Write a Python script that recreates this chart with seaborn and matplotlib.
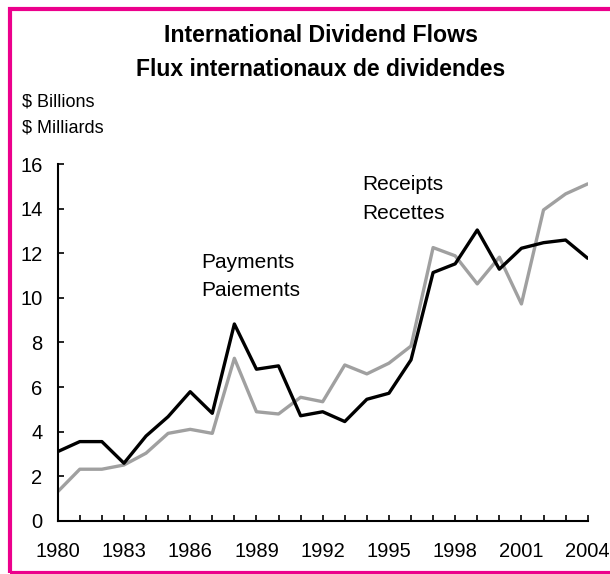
import pandas as pd
import numpy as np
import matplotlib.pyplot as plt
import seaborn as sns
from matplotlib.patches import Rectangle

# Data ($ billions)
years = list(range(1980, 2005))
payments = [3.10, 3.55, 3.55, 2.58, 3.80, 4.67, 5.79, 4.82, 8.83, 6.80, 6.95, 4.71, 4.89,
            4.45, 5.45, 5.72, 7.22, 11.14, 11.53, 13.05, 11.29, 12.23, 12.48, 12.60, 11.78]
receipts = [1.30, 2.31, 2.31, 2.50, 3.03, 3.92, 4.10, 3.92, 7.29, 4.89, 4.79, 5.54, 5.34,
            6.99, 6.59, 7.07, 7.84, 12.26, 11.89, 10.63, 11.83, 9.73, 13.95, 14.67, 15.12]
xtick_years = list(range(1980, 2005, 3))
yticks = list(range(0, 17, 2))

df = pd.DataFrame({'Year': years, 'Payments': payments, 'Receipts': receipts})
long = df.melt(id_vars='Year', var_name='Flow', value_name='Value')

sns.set_style('white')
plt.rcParams['font.family'] = ['Liberation Sans', 'DejaVu Sans']
plt.rcParams['text.color'] = 'black'

fig = plt.figure(figsize=(6.1, 5.74), dpi=100)
ax = fig.add_axes([0.0946, 0.0929, 0.8688, 0.6209])

sns.lineplot(data=long, x='Year', y='Value', hue='Flow',
             palette={'Payments': 'black', 'Receipts': '#A0A0A0'},
             hue_order=['Receipts', 'Payments'],
             linewidth=2.4, legend=False, ax=ax)

ax.set_xlim(1980, 2004)
ax.set_ylim(0, 16)
ax.set_xticks(years, minor=True)
ax.set_xticks(xtick_years)
ax.set_xticklabels([str(y) for y in xtick_years], fontsize=14.5)
ax.set_yticks(yticks)
ax.set_yticklabels([str(v) for v in yticks], fontsize=14.5)
ax.tick_params(axis='both', which='both', direction='in', length=4, width=1.2,
               colors='black', left=True, bottom=True)
ax.tick_params(axis='x', pad=15.5)
ax.tick_params(axis='y', pad=11)
ax.set_xlabel('')
ax.set_ylabel('')
for s in ['top', 'right']:
    ax.spines[s].set_visible(False)
for s in ['left', 'bottom']:
    ax.spines[s].set_color('black')
    ax.spines[s].set_linewidth(1.5)

ax.text(1986.5, 11.6, 'Payments', fontsize=15, ha='left', va='center')
ax.text(1986.5, 10.35, 'Paiements', fontsize=15, ha='left', va='center')
ax.text(1993.8, 15.07, 'Receipts', fontsize=15, ha='left', va='center')
ax.text(1993.8, 13.77, 'Recettes', fontsize=15, ha='left', va='center')

fig.text(321 / 610, 1 - 36 / 574, 'International Dividend Flows', fontsize=16.7,
         fontweight='bold', ha='center', va='center')
fig.text(321 / 610, 1 - 70 / 574, 'Flux internationaux de dividendes', fontsize=16.5,
         fontweight='bold', ha='center', va='center')
fig.text(22 / 610, 1 - 102 / 574, '$ Billions', fontsize=13, ha='left', va='center')
fig.text(22 / 610, 1 - 128 / 574, '$ Milliards', fontsize=13, ha='left', va='center')

# magenta frame (right edge falls outside the picture)
fig.patches.append(Rectangle((10 / 610, 1 / 574), 700 / 610, 564.5 / 574,
                             transform=fig.transFigure, fill=False,
                             edgecolor='#EC008C', linewidth=3))

fig.savefig('out.png', dpi=100)
